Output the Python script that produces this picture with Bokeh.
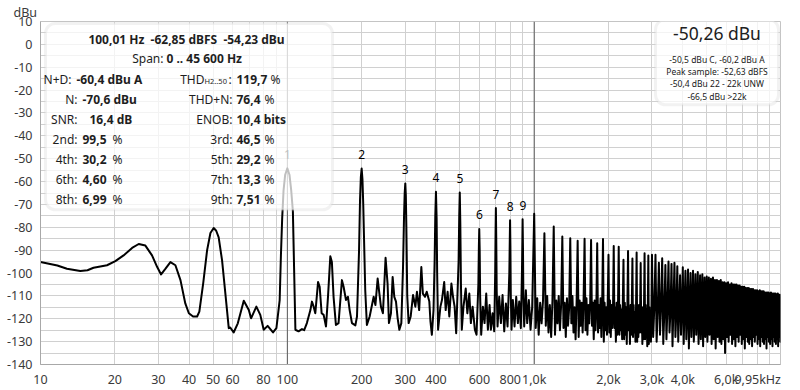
import math
from bokeh.plotting import figure
from bokeh.models import Range1d, FixedTicker, Label, BoxAnnotation, Span
from bokeh.embed import file_html
from bokeh.resources import INLINE
from bokeh.core.properties import value

# ---------------- data ----------------
# spectrum below 1 kHz: (Hz, dBu)
trace_lf = [
    (10, -95.2), (11.7, -96.7), (12.8, -98.1), (14.5, -99.1), (15.5, -98.8), (16.4, -97.7),
    (18.6, -96.6), (20.1, -94.8), (21.7, -92.3), (23.5, -89.0), (25.0, -87.3), (26.6, -88.0),
    (28.3, -92.3), (29.7, -97.4), (30.8, -100.6), (32.1, -98.1), (33.6, -95.2), (35.2, -96.6),
    (36.9, -103.1), (38.6, -113.3), (39.9, -117.6), (41.5, -119.0), (43.1, -119.0), (44.0, -116.9),
    (45.6, -104.6), (47.3, -90.1), (48.8, -82.5), (50.3, -80.3), (51.5, -81.5), (52.7, -84.4),
    (54.4, -94.5), (56.6, -113.3), (57.9, -124.1), (58.7, -123.8), (60.6, -126.0), (63.0, -122.0),
    (66.6, -112.1), (69.8, -116.2), (71.3, -119.8), (74.9, -114.7), (77.7, -118.3), (80.2, -124.8),
    (83.2, -123.1), (87.5, -126.0), (90.3, -124.1), (93.1, -111.8), (94.2, -92), (95.3, -76),
    (96.5, -64), (98.0, -57), (100.0, -54.23), (102.0, -57), (103.7, -64), (105.3, -73),
    (106.5, -98), (107.8, -124.8), (111, -125.5), (114.6, -124.5), (117, -125), (120, -121.9),
    (124, -116.2), (125.8, -112.5), (127.8, -114.7), (129.8, -117.6), (133.2, -103.9), (135.2, -106.0),
    (137.7, -117.6), (140.3, -118.3), (143.4, -123.4), (146.1, -110.4), (149.3, -92.7), (151.5, -95.2),
    (153.9, -110.4), (157.3, -122.7), (161.2, -121.9), (166.4, -103.1), (169, -106), (172.8, -111.8),
    (176, -110.4), (178.8, -116.2), (182.7, -121.9), (188.6, -122.9), (191.5, -119.0), (195.2, -90.1),
    (197.0, -68), (198.5, -58), (200, -54.3), (201.5, -59), (203, -70), (204.5, -85),
    (206.8, -107.5), (210, -122.7), (215.5, -119.0), (223.7, -110.4), (227.4, -114.0), (232.2, -102.4),
    (236, -109.0), (239.4, -114.7), (243.9, -117.6), (250, -93.3), (254.7, -104.6), (258, -121.9),
    (262.9, -117.6), (267, -101.7), (271.2, -110.4), (275.5, -112.5), (279.8, -119.8), (284.3, -124.8),
    (289.6, -121.9), (294.2, -97.4), (297, -75), (298.8, -65), (300.5, -60.8), (302, -66),
    (303.5, -80), (306, -110), (310, -121.9), (316, -119), (323, -109.6), (330, -114.7),
    (335, -108.2), (342, -116.2), (349, -97.4), (354, -109), (361, -110.4), (367, -108.2),
    (376, -112.5), (380, -121.2), (385, -127), (391, -116.2), (395, -95), (397.5, -75),
    (400, -64.5), (402.5, -76), (404.5, -100), (408, -124.8), (417, -114.7), (423, -111.8),
    (432, -103.9), (438, -116.2), (446, -108.2), (453, -119), (462, -104.6), (469, -110.4),
    (476, -114.7), (483, -126.3), (494, -95), (497, -75), (499.5, -64.8), (502, -78),
    (505, -105), (509, -124.8), (517, -114.7), (528, -106.8), (536, -117.6), (546, -109),
    (554, -121.9), (563, -114.7), (575, -124.8), (584, -127), (594, -105), (597, -88),
    (599, -80.7), (601.5, -90), (604, -110), (610, -127), (619.7, -114.7), (629.4, -121.9),
    (639.3, -109), (649.3, -124.8), (659.5, -114.0), (667.7, -124.8), (678.2, -117.6), (688.8, -125.5),
    (695, -100), (697.5, -82), (699.5, -71.6), (702, -85), (705, -108), (710.5, -123.4),
    (721.7, -110.4), (733, -121.9), (744.5, -109.6), (756.2, -125.5), (768, -113.3), (780, -123.4),
    (793, -100), (796.5, -85), (798.5, -76.9), (801, -88), (804, -110), (809.5, -124.8),
    (819.6, -111.8), (832.5, -123.4), (845.5, -110.4), (858.8, -121.9), (869.5, -112.5), (883, -124.1),
    (892, -100), (895.5, -86), (897.5, -76.5), (900.5, -88), (904, -110), (910.9, -123.4),
    (925.3, -107.5), (936.8, -121.9), (951.5, -111.8), (966.5, -124.8), (981.6, -114.7),
]

fundamental_hz = 100
# harmonic peak levels, harmonic 1 .. 99 (dBu)
harm_dbu = [
    -54.23, -54.3, -60.8, -64.5, -64.8, -80.7, -71.6, -76.9, -76.5, -74.1,
    -82.6, -79.7, -84.0, -84.8, -85.9, -85.0, -85.5, -87.0, -85.1, -92.0,
    -88.2, -88.5, -94.2, -90.4, -93.6, -91.0, -95.6, -91.4, -92.3, -92.0,
    -92.0, -95.5, -93.5, -96.5, -95.0, -96.0, -95.5, -97.0, -101.0, -97.5,
    -99.0, -98.5, -100.0, -99.0, -100.5, -99.5, -101.0, -100.5, -102.0, -101.5,
    -102.0, -102.5, -102.0, -103.0, -103.0, -103.5, -103.0, -104.0, -104.0, -104.5,
    -104.0, -105.0, -104.5, -105.0, -105.0, -105.0, -105.5, -105.5, -106.0, -106.0,
    -106.0, -106.5, -106.5, -106.5, -107.0, -107.0, -107.0, -107.5, -107.5, -107.5,
    -108.0, -107.5, -108.0, -108.0, -108.0, -108.5, -108.5, -108.5, -108.5, -109.0,
    -108.5, -109.0, -109.0, -109.0, -109.0, -109.5, -109.0, -109.5, -109.5,
]

# noise floor samples after harmonics 10 .. 29 (dBu)
noise_1k = [
    [-124, -111, -127, -113, -122, -112], [-123, -110, -126, -114, -128, -112],
    [-127, -112, -122, -110, -125, -114], [-124, -113, -128, -111, -123, -115],
    [-122, -110, -126, -115, -129, -112], [-128, -112, -123, -113, -126, -111],
    [-125, -111, -127, -114, -122, -113], [-123, -113, -129, -112, -125, -115],
    [-126, -114, -124, -111, -128, -113], [-130, -113, -125, -115, -127, -112],
    [-126, -112, -128, -114, -124, -116], [-124, -115, -130, -113, -127, -114],
    [-127, -114, -125, -116, -129, -113], [-129, -113, -127, -115, -131, -114],
    [-125, -116, -131, -114, -127, -115], [-128, -114, -126, -117, -130, -115],
    [-130, -115, -128, -114, -126, -116], [-126, -116, -131, -115, -129, -114],
    [-129, -114, -127, -116, -132, -115], [-131, -115, -128, -117, -130, -116],
]
# noise floor samples after harmonics 30 .. 99 (dBu)
noise_3k = [
    [-128, -115], [-130, -116], [-127, -114], [-131, -117], [-129, -115], [-126, -116], [-132, -114],
    [-128, -117], [-130, -115], [-127, -116], [-131, -114], [-129, -117], [-133, -115], [-128, -116],
    [-130, -114], [-127, -117], [-131, -115], [-129, -116], [-132, -114], [-128, -117], [-130, -115],
    [-127, -116], [-131, -114], [-129, -117], [-133, -115], [-128, -116], [-130, -114], [-131, -117],
    [-129, -115], [-135, -116], [-128, -114], [-130, -117], [-127, -115], [-131, -116], [-129, -114],
    [-132, -117], [-128, -115], [-130, -116], [-127, -114], [-131, -117], [-129, -115], [-133, -116],
    [-128, -114], [-130, -117], [-131, -115], [-129, -116], [-132, -114], [-128, -117], [-130, -115],
    [-127, -116], [-131, -114], [-129, -117], [-132, -115], [-128, -116], [-130, -114], [-131, -117],
    [-129, -115], [-133, -116], [-128, -114], [-130, -117], [-131, -115], [-129, -116], [-132, -114],
    [-128, -117], [-130, -115], [-131, -116], [-129, -114], [-132, -117], [-128, -115], [-130, -116],
]

x_ticks = [10, 20, 30, 40, 50, 60, 70, 80, 90, 100, 200, 300, 400, 500, 600, 700, 800, 900,
           1000, 2000, 3000, 4000, 5000, 6000, 7000, 8000, 9000, 9950]
x_tick_text = ["10", "20", "30", "40", "50", "60", "", "80", "", "100", "200", "300", "400", "",
               "600", "", "800", "", "1,0k", "2,0k", "3,0k", "4,0k", "", "6,0k", "", "", "",
               "9,95kHz"]
y_ticks = [-140, -130, -120, -110, -100, -90, -80, -70, -60, -50, -40, -30, -20, -10, 0, 10]
y_minor = [-135, -125, -115, -105, -95, -85, -75, -65, -55, -45, -35, -25, -15, -5, 5]
y_unit = "dBu"

head_line = "100,01 Hz \u00a0-62,85 dBFS \u00a0-54,23 dBu"
span_label, span_value = "Span:", "0 .. 45 600 Hz"
left_rows = [("N+D:", "-60,4 dBu A", ""), ("N:", "-70,6 dBu", ""), ("SNR:", "16,4 dB", ""),
             ("2nd:", "99,5", "%"), ("4th:", "30,2", "%"), ("6th:", "4,60", "%"), ("8th:", "6,99", "%")]
right_rows = [("THD", "119,7", "%"), ("THD+N:", "76,4", "%"), ("ENOB:", "10,4 bits", ""),
              ("3rd:", "46,5", "%"), ("5th:", "29,2", "%"), ("7th:", "13,3", "%"), ("9th:", "7,51", "%")]
level_big = "-50,26 dBu"
level_lines = ["-50,5 dBu C, -60,2 dBu A", "Peak sample: -52,63 dBFS",
               "-50,4 dBu 22 - 22k UNW", "-66,5 dBu >22k"]

# ---------------- build trace ----------------
fx = [f for f, _ in trace_lf]
fy = [d for _, d in trace_lf]
for n in range(10, 100):
    fx.append(n * fundamental_hz)
    fy.append(harm_dbu[n - 1])
    nv = noise_1k[n - 10] if n < 30 else noise_3k[n - 30]
    m = len(nv)
    for k, v in enumerate(nv):
        fx.append(n * fundamental_hz + fundamental_hz * (k + 1) / (m + 1))
        fy.append(v)

# ---------------- figure ----------------
FONT = "Noto Sans"
W, H = 800, 390
FL, FR, FT, FB = 40.0, 780.0, 19.0, 365.0
X0, X1, Y0, Y1 = 10.0, 9950.0, -140.0, 10.0

def xd(px):
    return 10 ** (math.log10(X0) + (px - FL) / (FR - FL) * (math.log10(X1) - math.log10(X0)))

def yd(py):
    return Y1 - (py - FT) / (FB - FT) * (Y1 - Y0)

p = figure(width=W, height=H, x_axis_type="log",
           x_range=Range1d(X0, X1), y_range=Range1d(Y0, Y1),
           output_backend="svg", toolbar_location=None,
           min_border_left=int(FL), min_border_right=int(W - FR),
           min_border_top=int(FT), min_border_bottom=int(H - FB))
p.background_fill_color = "white"
p.outline_line_color = "#c4c4c4"

# "dBu" unit caption at the top-left, as the plot title
p.title.text = y_unit
p.title.align = "left"
p.title.offset = -27
p.title.standoff = 2
p.title.text_font = FONT
p.title.text_font_size = "12.5px"
p.title.text_font_style = "normal"
p.title.text_color = "#3a3a3a"

# last tick label sits flush with the right edge: pad it with no-break spaces
nb = "\u00a0" * 6
p.xaxis.ticker = FixedTicker(ticks=x_ticks)
p.xaxis.major_label_overrides = {t: (s + nb if t == 9950 else s) for t, s in zip(x_ticks, x_tick_text)}
p.yaxis.ticker = FixedTicker(ticks=y_ticks, minor_ticks=y_minor)
p.yaxis.major_label_overrides = {t: str(t) for t in y_ticks}
for ax in (p.xaxis[0], p.yaxis[0]):
    ax.major_label_text_font = FONT
    ax.major_label_text_font_size = "12.5px"
    ax.major_label_text_color = "#3a3a3a"
    ax.axis_line_color = "#a8a8a8"
    ax.major_tick_line_color = None
    ax.minor_tick_line_color = None
    ax.major_tick_in = 0
    ax.major_tick_out = 0
p.xaxis.major_label_standoff = 6
p.yaxis.major_label_standoff = 4

p.xgrid.ticker = FixedTicker(ticks=x_ticks[:-1])
p.xgrid.grid_line_color = "#d0d0d0"
p.ygrid.ticker = FixedTicker(ticks=y_ticks, minor_ticks=y_minor)
p.ygrid.grid_line_color = "#d0d0d0"
p.ygrid.minor_grid_line_color = "#d0d0d0"

for loc in (100, 1000):
    p.add_layout(Span(location=loc, dimension="height", line_color="#5a5a5a",
                      line_width=1, level="underlay"))

p.line(fx, fy, line_color="black", line_width=2, line_join="round")

hn = list(range(1, 10))
p.text(x=[n * fundamental_hz for n in hn], y=[harm_dbu[n - 1] for n in hn],
       text=[str(n) for n in hn], text_font=value(FONT), text_font_size="12px",
       text_align="center", text_baseline="middle", y_offset=-14, text_color="black")

# info boxes
p.add_layout(BoxAnnotation(left=xd(45), right=xd(332), top=yd(21), bottom=yd(209),
                           fill_color="white", fill_alpha=0.75, line_color="#d4d4d4",
                           line_width=3, border_radius=10))
p.add_layout(BoxAnnotation(left=xd(655), right=xd(778), top=yd(17), bottom=yd(103),
                           fill_color="white", fill_alpha=0.75, line_color="#d4d4d4",
                           line_width=3, border_radius=10))

def lab(px, py, text, size="12px", bold=False, align="left", color="#1e1e1e"):
    p.add_layout(Label(x=xd(px), y=yd(py), text=text, text_font=FONT, text_font_size=size,
                       text_font_style="bold" if bold else "normal", text_align=align,
                       text_baseline="middle", text_color=color))

lab(186, 37, head_line, bold=True, align="center")
lab(163, 56, span_label, align="right")
lab(166, 56, span_value, bold=True)
row_y = [77.5, 98, 118, 138, 158, 178, 199]
for i, (a, b, c) in enumerate(left_rows):
    y = row_y[i]
    lx = 71 if i == 0 else 77
    vx = 76 if i == 0 else (89 if i == 2 else 82)
    lab(lx, y, a, align="right")
    lab(vx, y, b, bold=True)
    if c:
        lab(112, y, c)
for i, (a, b, c) in enumerate(right_rows):
    y = row_y[i]
    if i == 0:
        lab(204, y, a, align="right")
        lab(204, y + 2, "H2..50", size="7.5px")
        lab(228, y, ":")
    else:
        lab(232, y, a, align="right")
    lab(236, y, b, bold=True)
    if c:
        lab(270 if i == 0 else 264, y, c)

lab(716.5, 31, level_big, size="17.5px", align="center", color="#202020")
for i, t in enumerate(level_lines):
    lab(716.5, 57 + 12.5 * i, t, size="8.5px", align="center", color="#202020")

open("out.html", "w").write(file_html(p, INLINE))
